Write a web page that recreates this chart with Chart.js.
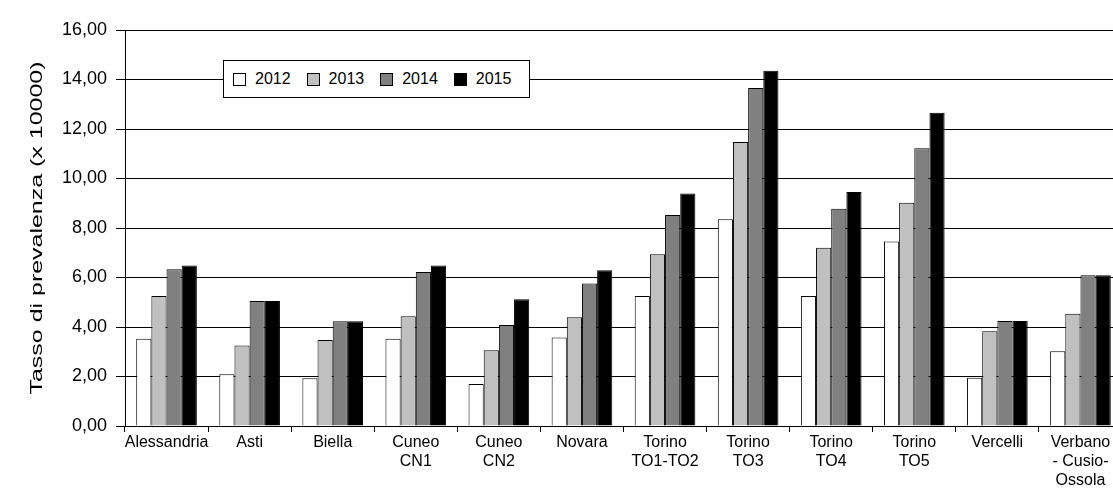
<!DOCTYPE html>
<html>
<head>
<meta charset="utf-8">
<script src="https://cdn.jsdelivr.net/npm/chart.js@4.4.1/dist/chart.umd.min.js"></script>
<style>
  html, body { margin: 0; padding: 0; background: #fff; overflow: hidden; }
  #wrap { position: relative; width: 1122px; height: 489px; }
  #legend {
    position: absolute; left: 223px; top: 60px; width: 296px; height: 36px;
    border: 1px solid #000; background: #fff;
    font-family: "Liberation Sans", Arial, sans-serif; font-size: 16px; color: #000;
    display: flex; align-items: center; padding-left: 9px; box-sizing: content-box;
  }
  #legend .item { display: flex; align-items: center; margin-right: 16px; }
  #legend .sw { width: 11px; height: 11px; border: 1px solid #000; margin-right: 9px; }
</style>
</head>
<body>
<div id="wrap">
  <canvas id="barChart" width="1122" height="489"></canvas>
  <div id="legend"></div>
</div>
<script>
  var categories = ["Alessandria", "Asti", "Biella", ["Cuneo", "CN1"], ["Cuneo", "CN2"], "Novara",
    ["Torino", "TO1-TO2"], ["Torino", "TO3"], ["Torino", "TO4"], ["Torino", "TO5"], "Vercelli",
    ["Verbano", "- Cusio-", "Ossola"]];
  var years = ["2012", "2013", "2014", "2015"];
  var v2012 = [3.53, 2.09, 1.93, 3.53, 1.70, 3.58, 5.25, 8.35, 5.25, 7.45, 1.95, 3.02];
  var v2013 = [5.25, 3.25, 3.47, 4.43, 3.06, 4.39, 6.94, 11.47, 7.20, 9.02, 3.83, 4.54];
  var v2014 = [6.33, 5.05, 4.23, 6.22, 4.08, 5.76, 8.53, 13.66, 8.78, 11.22, 4.24, 6.09];
  var v2015 = [6.48, 5.05, 4.23, 6.48, 5.12, 6.29, 9.39, 14.35, 9.45, 12.66, 4.24, 6.09];
  var colors = ["#ffffff", "#c0c0c0", "#808080", "#000000"];

  var series = [v2012, v2013, v2014, v2015];
  var datasets = years.map(function (y, i) {
    return {
      label: y,
      data: series[i],
      backgroundColor: colors[i],
      borderColor: "#000",
      borderWidth: 1,
      borderSkipped: "bottom",
      categoryPercentage: 0.73,
      barPercentage: 1.0
    };
  });

  Chart.defaults.font.family = '"Liberation Sans", Arial, sans-serif';
  Chart.defaults.color = "#000";

  // the axis title in the original is stretched along its length
  var stretchTitle = {
    id: "stretchTitle",
    beforeDraw: function (chart) {
      var s = chart.scales.y;
      if (s._stretched) return;
      var orig = s.drawTitle;
      s.drawTitle = function () {
        var c = chart.ctx;
        var cy = (chart.chartArea.top + chart.chartArea.bottom) / 2;
        c.save();
        c.translate(0, cy);
        c.scale(1, 1.56);
        c.translate(0, -cy);
        orig.apply(this, arguments);
        c.restore();
      };
      s._stretched = true;
    }
  };

  var ctx = document.getElementById("barChart").getContext("2d");
  var myBarChart = new Chart(ctx, {
    type: "bar",
    data: { labels: categories, datasets: datasets },
    options: {
      responsive: false,
      animation: false,
      layout: { padding: { top: 30, left: 28, right: 0, bottom: 0 } },
      plugins: { legend: { display: false }, tooltip: { enabled: false } },
      scales: {
        x: {
          grid: { display: true, drawOnChartArea: false, color: "#000", tickLength: 6, offset: true },
          border: { display: true, color: "#000", width: 1 },
          ticks: { font: { size: 16 }, maxRotation: 0, autoSkip: false, padding: 1 },
          afterFit: function (scale) { scale.height = 63; }
        },
        y: {
          min: 0, max: 16,
          grid: { color: "#000", lineWidth: 1, tickLength: 9 },
          border: { display: true, color: "#000", width: 1 },
          ticks: {
            stepSize: 2, padding: 9, font: { size: 18 },
            callback: function (v) { return v.toFixed(2).replace(".", ","); }
          },
          title: { display: true, text: "Tasso di prevalenza (x 10000)", font: { size: 16 }, padding: 0 },
          afterFit: function (scale) { scale.width = 97; }
        }
      }
    },
    plugins: [stretchTitle]
  });

  var legend = document.getElementById("legend");
  years.forEach(function (y, i) {
    var item = document.createElement("div");
    item.className = "item";
    var sw = document.createElement("span");
    sw.className = "sw";
    sw.style.background = colors[i];
    item.appendChild(sw);
    item.appendChild(document.createTextNode(y));
    legend.appendChild(item);
  });
</script>
</body>
</html>
